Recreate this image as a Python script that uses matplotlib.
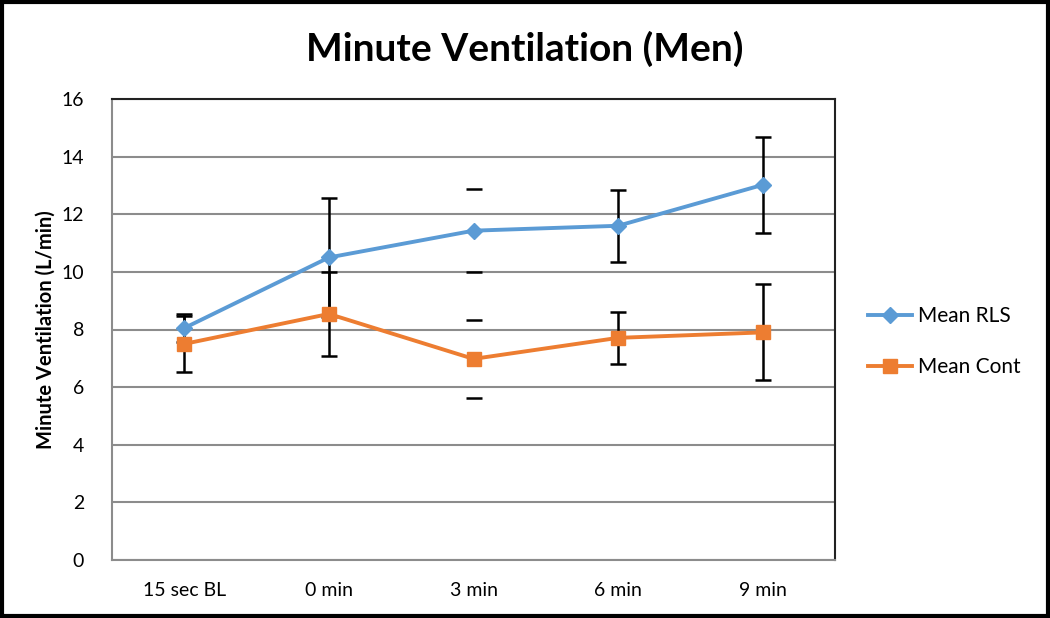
import matplotlib.pyplot as plt
import numpy as np

plt.rcParams['font.family'] = ['Lato', 'DejaVu Sans']

categories = ['15 sec BL', '0 min', '3 min', '6 min', '9 min']
rls_mean = [8.05, 10.5, 11.43, 11.6, 13.02]
rls_err = [0.48, 2.05, 1.43, 1.25, 1.66]
cont_mean = [7.5, 8.54, 6.98, 7.71, 7.9]
cont_err = [0.96, 1.45, 1.36, 0.9, 1.67]

blue = '#5B9BD5'
orange = '#ED7D31'

fig = plt.figure(figsize=(10.5, 6.18), dpi=100)
ax = fig.add_axes([112 / 1050, 1 - 560 / 618, (835 - 112) / 1050, (560 - 99) / 618])

x = np.arange(len(categories))

# error bars (the 3 min point only shows the caps in the original)
full = [0, 1, 3, 4]
for mean, err in [(rls_mean, rls_err), (cont_mean, cont_err)]:
    m = np.array(mean)
    e = np.array(err)
    ax.errorbar(x[full], m[full], yerr=e[full], fmt='none', ecolor='black',
                elinewidth=1.8, capsize=6, capthick=1.8, zorder=2)
    ax.errorbar(x[[2]], m[[2]], yerr=e[[2]], fmt='none', ecolor='black',
                elinewidth=0, capsize=6, capthick=1.8, zorder=2)

ax.plot(x, rls_mean, color=blue, lw=2.8, marker='D', ms=8, label='Mean RLS', zorder=3)
ax.plot(x, cont_mean, color=orange, lw=2.8, marker='s', ms=10, label='Mean Cont', zorder=3)

ax.set_xlim(-0.5, len(categories) - 0.5)
ax.set_ylim(0, 16)
ax.set_yticks(range(0, 17, 2))
ax.set_xticks(x)
ax.set_xticklabels(categories)
ax.tick_params(length=0, labelsize=14)
ax.tick_params(axis='x', pad=16)
ax.tick_params(axis='y', pad=20)
ax.yaxis.grid(True, color='#8c8c8c', lw=1.5)
ax.set_axisbelow(True)

for side in ['left', 'bottom']:
    ax.spines[side].set_color('#8c8c8c')
    ax.spines[side].set_linewidth(1.5)
for side in ['top', 'right']:
    ax.spines[side].set_color('#222222')
    ax.spines[side].set_linewidth(1.5)

ax.set_ylabel('Minute Ventilation (L/min)', fontsize=14.5, fontweight='bold', labelpad=4)
fig.text(0.5, 1 - 49 / 618, 'Minute Ventilation (Men)', ha='center', va='center',
         fontsize=28, fontweight='bold')

ax.legend(loc='center left', bbox_to_anchor=(1.02, 0.474), frameon=False,
          fontsize=15, labelspacing=1.5, handlelength=2.1, handletextpad=0.3)

# outer black frame
fig.patches.append(plt.Rectangle((0.002, 0.003), 0.996, 0.994, transform=fig.transFigure,
                                 fill=False, edgecolor='black', lw=3))

fig.savefig('out.png', dpi=100)
